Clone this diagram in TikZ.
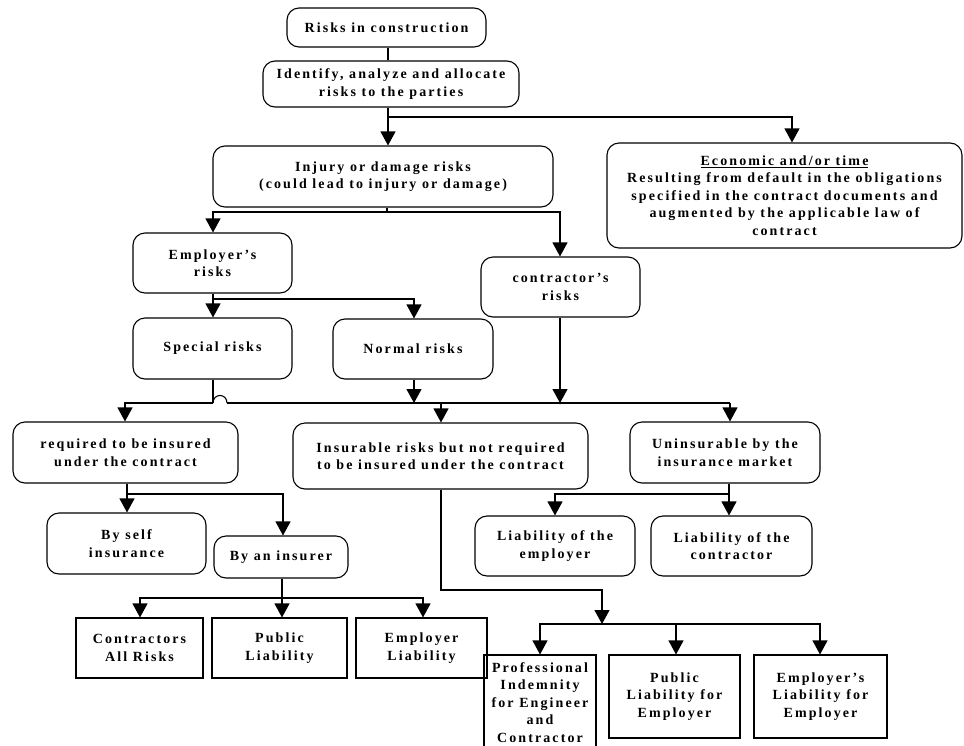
\documentclass[tikz,border=0pt]{standalone}
\usepackage{fontspec}
\setmainfont{Liberation Serif}[LetterSpace=15]
\usetikzlibrary{arrows.meta}
\begin{document}
\begin{tikzpicture}[x=1pt,y=-1pt,
  base/.style={draw=black, line width=1.1pt, align=center, inner sep=0pt,
    font=\fontsize{14}{17.5}\selectfont\bfseries},
  rbox/.style={base, rounded corners=12pt},
  sbox/.style={base},
  conn/.style={line width=1.1pt},
  arr/.style={conn, -{Triangle[width=15pt,length=14pt]}}]
\useasboundingbox (0,0) rectangle (964,745);
\clip (0,0) rectangle (964,745);
% nodes
\node[rbox, minimum width=199pt, minimum height=39pt] (risks) at (386.5,27.5) {Risks in construction};
\node[rbox, minimum width=256pt, minimum height=46pt] (ident) at (391,84) {Identify, analyze and allocate\\risks to the parties};
\node[rbox, minimum width=340pt, minimum height=61pt] (injury) at (383,176.5) {Injury or damage risks\\(could lead to injury or damage)};
\node[rbox, minimum width=355pt, minimum height=105pt] (econ) at (784.5,195.5) {\underline{Economic and/or time}\\Resulting from default in the obligations\\specified in the contract documents and\\augmented by the applicable law of\\contract};
\node[rbox, minimum width=159pt, minimum height=60pt] (emp) at (212.5,263) {Employer's\\risks};
\node[rbox, minimum width=159pt, minimum height=60pt] (contr) at (560.5,287) {contractor's\\risks};
\node[rbox, minimum width=159pt, minimum height=61pt] (special) at (212.5,348.5) {Special risks};
\node[rbox, minimum width=160pt, minimum height=60pt] (normal) at (413,349) {Normal risks};
\node[rbox, minimum width=225pt, minimum height=61pt] (required) at (125.5,452.5) {required to be insured\\under the contract};
\node[rbox, minimum width=295pt, minimum height=66pt] (insurable) at (440.5,456) {Insurable risks but not required\\to be insured under the contract};
\node[rbox, minimum width=190pt, minimum height=61pt] (uninsurable) at (725,452.5) {Uninsurable by the\\insurance market};
\node[rbox, minimum width=159pt, minimum height=61pt] (self) at (126.5,543.5) {By self\\insurance};
\node[rbox, minimum width=134pt, minimum height=42pt] (insurer) at (281,557) {By an insurer};
\node[rbox, minimum width=160pt, minimum height=60pt] (liabemp) at (555,546) {Liability of the\\employer};
\node[rbox, minimum width=161pt, minimum height=60pt] (liabcon) at (731.5,546) {Liability of the\\contractor};
\node[sbox, minimum width=127pt, minimum height=60pt] (car) at (139.5,648) {Contractors\\All Risks};
\node[sbox, minimum width=135pt, minimum height=60pt] (pl) at (279.5,648) {Public\\Liability};
\node[sbox, minimum width=131pt, minimum height=60pt] (el) at (421.5,648) {Employer\\Liability};
\node[sbox, minimum width=112pt, minimum height=95pt] (pi) at (540,702.5) {Professional\\Indemnity\\for Engineer\\and\\Contractor};
\node[sbox, minimum width=131pt, minimum height=83pt] (plemp) at (674.5,696.5) {Public\\Liability for\\Employer};
\node[sbox, minimum width=133pt, minimum height=83pt] (elemp) at (820.5,696.5) {Employer's\\Liability for\\Employer};
% junction coordinates
\coordinate (a1) at (388,117);
\coordinate (a2) at (792,117);
\coordinate (b0) at (387,212);
\coordinate (b1) at (213,212);
\coordinate (b2) at (560,212);
\coordinate (c0) at (213,299);
\coordinate (c1) at (414,299);
\coordinate (d0) at (213,403);
\coordinate (d1) at (125,403);
\coordinate (d2) at (227,403);
\coordinate (d3) at (730,403);
\coordinate (d4) at (441,403);
\coordinate (e0) at (127,494);
\coordinate (e1) at (283,494);
\coordinate (f0) at (282,598);
\coordinate (f1) at (140,598);
\coordinate (f2) at (423,598);
\coordinate (g0) at (729,494);
\coordinate (g1) at (555,494);
\coordinate (h0) at (441,590);
\coordinate (h1) at (602,590);
\coordinate (h2) at (602,624);
\coordinate (h3) at (540,624);
\coordinate (h4) at (676,624);
\coordinate (h5) at (820,624);
% connectors
\draw[conn] (risks.south -| a1) -- (ident.north -| a1);
\draw[arr] (ident.south -| a1) -- (injury.north -| a1);
\draw[arr] (a1) -- (a2) -- (a2 |- econ.north);
\draw[conn] (injury.south -| b0) -- (b0);
\draw[arr] (b0) -- (b1) -- (b1 |- emp.north);
\draw[arr] (b0) -- (b2) -- (b2 |- contr.north);
\draw[arr] (emp.south -| c0) -- (c0) -- (c0 |- special.north);
\draw[arr] (c0) -- (c1) -- (c1 |- normal.north);
\draw[conn] (special.south -| d0) -- (d0);
\draw[arr] (d0) -- (d1) -- (d1 |- required.north);
\draw[conn] (d0) .. controls (213,393) and (227,393) .. (d2);
\draw[conn] (d2) -- (d3);
\draw[arr] (d3) -- (d3 |- uninsurable.north);
\draw[arr] (normal.south -| c1) -- (c1 |- d0);
\draw[arr] (contr.south -| b2) -- (b2 |- d0);
\draw[arr] (d4) -- (d4 |- insurable.north);
\draw[arr] (required.south -| e0) -- (e0) -- (e0 |- self.north);
\draw[arr] (e0) -- (e1) -- (e1 |- insurer.north);
\draw[arr] (insurer.south -| f0) -- (f0 |- pl.north);
\draw[arr] (f0) -- (f1) -- (f1 |- car.north);
\draw[arr] (f0) -- (f2) -- (f2 |- el.north);
\draw[arr] (uninsurable.south -| g0) -- (g0 |- liabcon.north);
\draw[arr] (g0) -- (g1) -- (g1 |- liabemp.north);
\draw[arr] (insurable.south -| h0) -- (h0) -- (h1) -- (h2);
\draw[arr] (h2) -- (h3) -- (h3 |- pi.north);
\draw[arr] (h4) -- (h4 |- plemp.north);
\draw[arr] (h3) -- (h5) -- (h5 |- elemp.north);
\end{tikzpicture}
\end{document}
